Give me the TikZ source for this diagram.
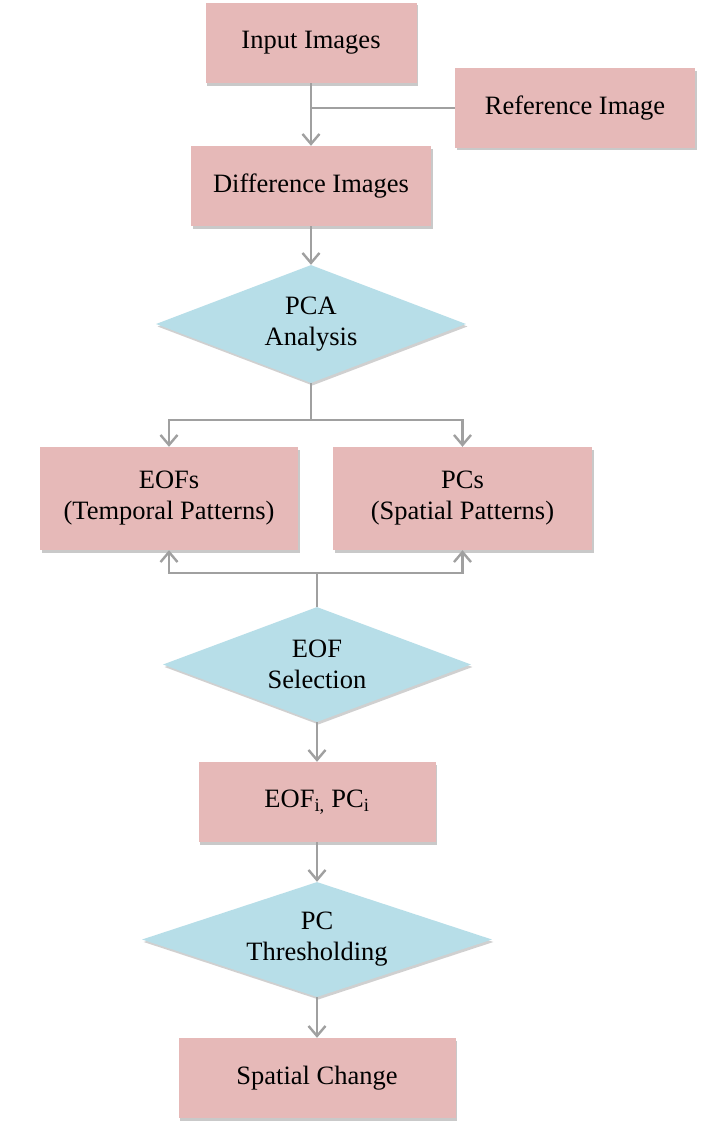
\documentclass[tikz,border=0pt]{standalone}
\usepackage{fontspec}
\setmainfont{Liberation Serif}
\usetikzlibrary{shapes.geometric,arrows.meta,shadows}
\definecolor{boxpink}{HTML}{E6B9B8}
\definecolor{diablue}{HTML}{B7DEE8}
\definecolor{linegray}{HTML}{A0A0A0}
\tikzset{
  pinkbox/.style={rectangle, fill=boxpink, draw=none, inner sep=0pt, align=center,
    font=\fontsize{26.5}{31}\selectfont,
    drop shadow={shadow xshift=1.5pt, shadow yshift=-2.5pt, opacity=0.35, fill=black!60}},
  bluedia/.style={diamond, fill=diablue, draw=none, inner sep=0pt, align=center,
    font=\fontsize{26.5}{31}\selectfont,
    drop shadow={shadow xshift=1.5pt, shadow yshift=-2.5pt, opacity=0.3, fill=black!60}},
  conn/.style={draw=linegray, line width=2.4pt},
  arr/.style={conn, -{Straight Barb[length=10pt, width=17pt, line width=2.4pt]}}
}
\begin{document}
\begin{tikzpicture}[x=1pt, y=-1pt]
\useasboundingbox (0,0) rectangle (720,1140);
\fill[white] (0,0) rectangle (720,1140);

\node[pinkbox, minimum width=211pt, minimum height=80pt] (inp) at (311,43) {Input Images};
\node[pinkbox, minimum width=240pt, minimum height=79pt] (ref) at (575,108) {Reference Image};
\node[pinkbox, minimum width=240pt, minimum height=80pt] (diff) at (311,186) {Difference Images};
\node[bluedia, minimum width=310pt, minimum height=118pt, aspect=2.6] (pca) at (311,324) {PCA\\Analysis};
\node[pinkbox, minimum width=258pt, minimum height=103pt] (eofs) at (169,498.5) {EOFs\\(Temporal Patterns)};
\node[pinkbox, minimum width=259pt, minimum height=103pt] (pcs) at (462.5,498.5) {PCs\\(Spatial Patterns)};
\node[bluedia, minimum width=308pt, minimum height=115pt, aspect=2.7] (eofsel) at (317,664.5) {EOF\\Selection};
\node[pinkbox, minimum width=237pt, minimum height=80pt] (eofi) at (317,802) {EOF\textsubscript{i,} PC\textsubscript{i}};
\node[bluedia, minimum width=350pt, minimum height=115pt, aspect=3] (pcth) at (317,939.5) {PC\\Thresholding};
\node[pinkbox, minimum width=277pt, minimum height=80pt] (spch) at (317,1078) {Spatial Change};

\coordinate (j1) at (inp.south |- ref.west);
\coordinate (j2) at ([yshift=-37pt]pca.south);
\coordinate (j3) at ([yshift=34pt]eofsel.north);

\draw[arr] (inp.south) -- (diff.north);
\draw[conn] (ref.west) -- (j1);
\draw[arr] (diff.south) -- (pca.north);
\draw[conn] (pca.south) -- (j2);
\draw[arr] (j2) -| (eofs.north);
\draw[arr] (j2) -| (pcs.north);
\draw[conn] (eofsel.north) -- (j3);
\draw[arr] (j3) -| (eofs.south);
\draw[arr] (j3) -| (pcs.south);
\draw[arr] (eofsel.south) -- (eofi.north);
\draw[arr] (eofi.south) -- (pcth.north);
\draw[arr] (pcth.south) -- (spch.north);
\end{tikzpicture}
\end{document}
